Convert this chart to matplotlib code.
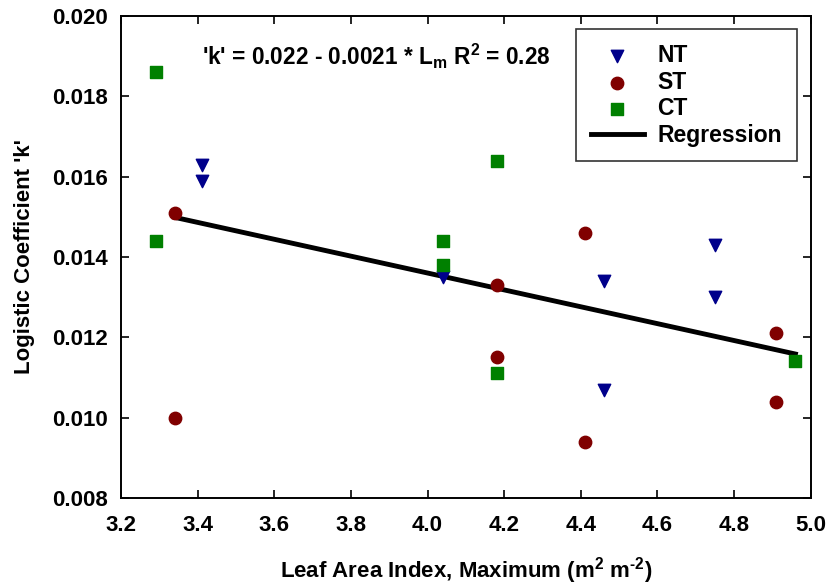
import numpy as np
import matplotlib
matplotlib.use("Agg")
import matplotlib.pyplot as plt

plt.rcParams['font.family'] = ['Liberation Sans', 'DejaVu Sans']
plt.rcParams['font.weight'] = 'bold'
plt.rcParams['mathtext.fontset'] = 'custom'
plt.rcParams['mathtext.rm'] = 'Liberation Sans:bold'
plt.rcParams['mathtext.it'] = 'Liberation Sans:bold'
plt.rcParams['mathtext.bf'] = 'Liberation Sans:bold'

# Maximum leaf area index and logistic coefficient k by tillage system
nt_lai = [3.41, 3.41, 4.04, 4.46, 4.46, 4.75, 4.75]
nt_k = [0.0163, 0.0159, 0.0135, 0.0134, 0.0107, 0.0143, 0.0130]

st_lai = [3.34, 3.34, 4.18, 4.18, 4.41, 4.41, 4.91, 4.91]
st_k = [0.0151, 0.0100, 0.0133, 0.0115, 0.0146, 0.0094, 0.0121, 0.0104]

ct_lai = [3.29, 3.29, 4.04, 4.04, 4.18, 4.18, 4.96]
ct_k = [0.0186, 0.0144, 0.0144, 0.0138, 0.0164, 0.0111, 0.0114]

# fitted regression k = a + b * Lm
intercept = 0.022
slope = -0.0021
fit_range = [3.34, 4.96]

fig = plt.figure(figsize=(8.29, 5.88), dpi=100)
ax = fig.add_axes([0.146, 0.153, 0.832, 0.820])

ax.scatter(nt_lai, nt_k, marker='v', s=80, color='#00008b', label='NT', zorder=3)
ax.scatter(st_lai, st_k, marker='o', s=80, color='#800000', label='ST', zorder=3)
ax.scatter(ct_lai, ct_k, marker='s', s=70, color='#008000', label='CT', zorder=3)

xfit = np.array(fit_range)
ax.plot(xfit, intercept + slope * xfit, color='black', lw=3.5, label='Regression', zorder=2)

ax.set_xlim(3.2, 5.0)
ax.set_ylim(0.008, 0.020)
ax.set_xticks(np.arange(3.2, 5.01, 0.2))
ax.set_yticks(np.arange(0.008, 0.0201, 0.002))
ax.xaxis.set_major_formatter(matplotlib.ticker.FormatStrFormatter('%.1f'))
ax.yaxis.set_major_formatter(matplotlib.ticker.FormatStrFormatter('%.3f'))
ax.tick_params(direction='in', length=6, width=1.2, top=True, right=True, labelsize=16)
ax.tick_params(axis='x', pad=12)
ax.tick_params(axis='y', pad=9.5)
for sp in ax.spines.values():
    sp.set_linewidth(1.4)

ax.set_xlabel('Leaf Area Index, Maximum (m$^2$ m$^{\\text{-2}}$)',
              fontsize=16, fontweight='bold', labelpad=14)
ax.set_ylabel("Logistic Coefficient 'k'", fontsize=16, fontweight='bold', labelpad=12)

ax.text(0.117, 0.916, "'k' = 0.022 - 0.0021 * L$_\\mathrm{m}$ R$^2$ = 0.28",
        transform=ax.transAxes, fontsize=16.3, fontweight='bold', va='center')

leg = ax.legend(loc='upper right', bbox_to_anchor=(0.98, 0.972), fontsize=16.5,
                frameon=True, fancybox=False, edgecolor='black', borderpad=0.65,
                handlelength=2.3, handletextpad=0.6, labelspacing=0.15,
                borderaxespad=0, scatterpoints=1)
leg.get_frame().set_linewidth(1.2)
for t in leg.get_texts():
    t.set_fontweight('bold')

fig.savefig('out.png', dpi=100)
